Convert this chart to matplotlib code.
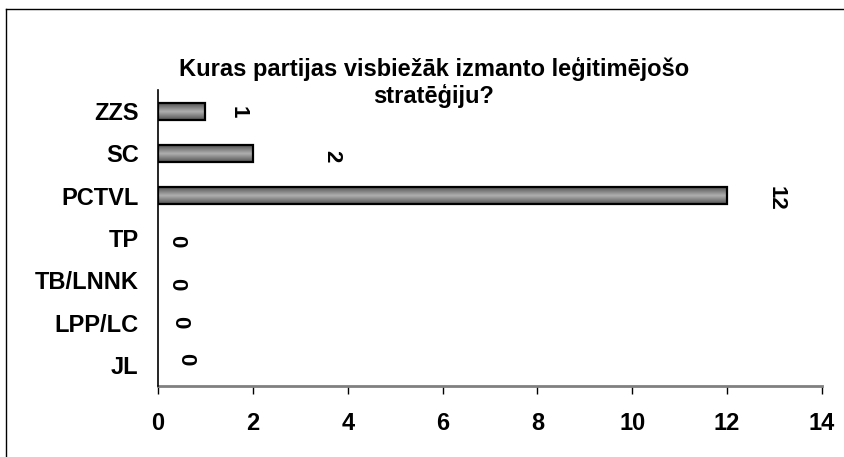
import numpy as np
import matplotlib
matplotlib.use("Agg")
import matplotlib.pyplot as plt
from matplotlib.lines import Line2D

categories = ["ZZS", "SC", "PCTVL", "TP", "TB/LNNK", "LPP/LC", "JL"]
values = [1, 2, 12, 0, 0, 0, 0]
xticks = [0, 2, 4, 6, 8, 10, 12, 14]
title_lines = ["Kuras partijas visbiežāk izmanto leģitimējošo", "stratēģiju?"]

# label offsets (pixels) from bar end, mimicking the original placement
label_dx = [33, 79, 49, 19, 19, 22, 28]
label_dy = [-1, -3, -3, -3, -4, 0, 6]

W, H = 845, 457
fig = plt.figure(figsize=(W / 100, H / 100), dpi=100)
fig.patch.set_facecolor("white")
ax = fig.add_axes([158 / W, 1 - 386 / H, (822 - 158) / W, 296 / H])

n = len(categories)
ypos = np.arange(n)[::-1]  # ZZS on top
bar_h = 0.4
bars = ax.barh(ypos, values, height=bar_h, color="#8f8f8f", edgecolor="none",
               linewidth=0, zorder=3)

# vertical gradient inside bars
grad = np.concatenate([np.linspace(0.33, 0.68, 32), np.linspace(0.68, 0.33, 32)]).reshape(-1, 1)
for b, v in zip(bars, values):
    if v <= 0:
        continue
    x0, y0 = b.get_x(), b.get_y()
    w, h = b.get_width(), b.get_height()
    im = ax.imshow(grad, cmap="gray", vmin=0, vmax=1, aspect="auto",
                   extent=[x0, x0 + w, y0, y0 + h], zorder=3.5, interpolation="bilinear")
    im.set_clip_path(b)
    ax.barh(b.get_y() + h / 2, w, height=h, left=x0, color="none",
            edgecolor="black", linewidth=1.6, zorder=4)

for y, v, dx, dy in zip(ypos, values, label_dx, label_dy):
    ax.annotate(str(v), xy=(v, y), xytext=(dx, dy), textcoords="offset pixels",
                rotation=-90, ha="center", va="center", fontsize=16,
                fontweight="bold", family="Liberation Sans", zorder=5)

ax.set_xlim(0, 14)
ax.set_ylim(-0.5, n - 0.5)
ax.set_xticks(xticks)
ax.set_xticklabels([str(t) for t in xticks])
ax.set_yticks(ypos)
ax.set_yticklabels(categories)
for lbl in ax.get_xticklabels():
    lbl.set_fontsize(17)
    lbl.set_fontweight("bold")
    lbl.set_family("Liberation Sans")
for lbl in ax.get_yticklabels():
    lbl.set_fontsize(17)
    lbl.set_fontweight("bold")
    lbl.set_family("Liberation Sans")

ax.spines["top"].set_visible(False)
ax.spines["right"].set_visible(False)
ax.spines["left"].set_color("black")
ax.spines["left"].set_linewidth(1.2)
ax.spines["left"].set_zorder(5)
ax.spines["bottom"].set_color("#808080")
ax.spines["bottom"].set_linewidth(2)
ax.tick_params(axis="y", length=0, pad=14)
ax.tick_params(axis="x", direction="out", length=6, width=1, color="black", pad=13)

for i, line in enumerate(title_lines):
    fig.text(434 / W, 1 - (69 + 27 * i) / H, line, ha="center", va="center",
             fontsize=17, fontweight="bold", family="Liberation Sans")

# outer frame (left and top edges visible)
fig.add_artist(Line2D([6 / W, 6 / W], [0, 1 - 9 / H], color="black", lw=1,
                      transform=fig.transFigure))
fig.add_artist(Line2D([6 / W, 1], [1 - 9 / H, 1 - 9 / H], color="black", lw=1,
                      transform=fig.transFigure))

fig.savefig("out.png", dpi=100, facecolor="white")
